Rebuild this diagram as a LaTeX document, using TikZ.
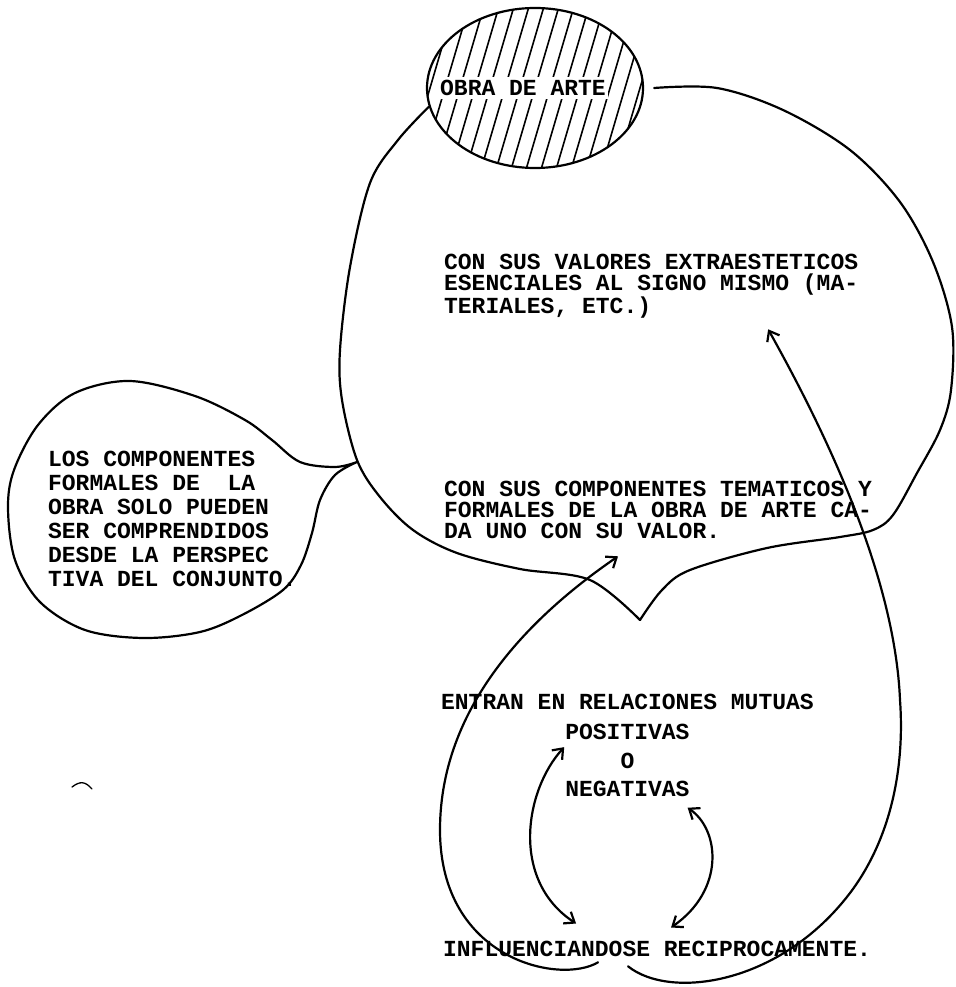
\documentclass[tikz,border=0pt]{standalone}
\usepackage{fontspec}
\setmonofont{Liberation Mono}
\usetikzlibrary{shapes.geometric,arrows.meta,positioning}

\begin{document}
\begin{tikzpicture}[x=1pt, y=-1pt, >={Straight Barb[length=9pt,width=14pt]}, line width=2.2pt, line join=round, line cap=round]
  \tikzstyle{typed} = [font=\ttfamily\bfseries\fontsize{23}{21}\selectfont, inner sep=0pt, align=left]
  \tikzstyle{typedwide} = [typed, font=\ttfamily\bfseries\fontsize{23}{24}\selectfont]
  \tikzstyle{hatched} = [ellipse, draw, minimum width=216pt, minimum height=160pt, inner sep=0pt,
    path picture={\foreach \k in {-9,...,9}
      \draw[line width=1.6pt] ([shift={(\k*15pt-25pt,-85pt)}]path picture bounding box.center) -- ++(50pt,170pt);}]

  \useasboundingbox (0,0) rectangle (955,987);
  \fill[white] (0,0) rectangle (955,987);

  % the work of art
  \node[hatched] (obra) at (535,88) {};
  \node[typed, fill=white, inner xsep=2pt, inner ysep=3pt] (obratxt) at (523,88) {OBRA DE ARTE};

  % typed blocks
  \node[typed, anchor=north west] (valores) at (443,253.5) {CON SUS VALORES EXTRAESTETICOS\\ESENCIALES AL SIGNO MISMO (MA-\\TERIALES, ETC.)};
  \node[typed, anchor=north west] (comp) at (443,480.5) {CON SUS COMPONENTES TEMATICOS Y\\FORMALES DE LA OBRA DE ARTE CA-\\DA UNO CON SU VALOR.};
  \node[typedwide, anchor=north west] (los) at (47,450.5) {LOS COMPONENTES\\FORMALES DE~~LA\\OBRA SOLO PUEDEN\\SER COMPRENDIDOS\\DESDE LA PERSPEC\\TIVA DEL CONJUNTO.};
  \node[typed, anchor=north west] (entran) at (440,693.5) {ENTRAN EN RELACIONES MUTUAS};
  \node[typed] (pos) [below=12pt of entran] {POSITIVAS};
  \node[typed] (o) [below=11pt of pos] {O};
  \node[typed] (neg) [below=10pt of o] {NEGATIVAS};
  \node[typed, anchor=north west] (influ) at (442,940.5) {INFLUENCIANDOSE RECIPROCAMENTE.};

  % balloon round the work
  \draw plot[smooth, tension=0.55] coordinates {(obra.190) (398,140) (370,183) (350,267) (340,350) (342,400) (357,460) (380,497) (413,530) (457,553) (520,569) (590,580) (640,620)};
  \draw plot[smooth, tension=0.55] coordinates {(640,620) (662,590) (690,570) (767,548) (840,537) (873,530) (893,515) (917,473) (940,430) (951,390) (952,327) (933,262) (900,202) (850,150) (783,110) (717,88) ([xshift=10pt]obra.east)};

  % side bubble
  \draw plot[smooth, tension=0.55] coordinates {(357,462) (335,467) (300,462) (272,440) (245,420) (195,396) (130,381) (75,393) (38,425) (14,470) (8,508) (15,560) (40,602) (85,630) (143,638) (200,632) (242,615) (283,590) (301,565) (312,533) (320,500) (335,475) (357,462)};

  % arrows
  \draw[->] ([shift={(-59,4)}]influ.south) .. controls (560,985) and (440,960) .. (440,830) .. controls (440,700) and (540,610) .. ([shift={(-40,16)}]comp.south);
  \draw[->] ([shift={(-29,8)}]influ.south) .. controls (670,1000) and (780,985) .. (850,893) .. controls (890,840) and (905,770) .. (900,700) .. controls (895,580) and (830,440) .. ([shift={(117,10)}]valores.south);
  \draw[<->] ([shift={(0,6)}]pos.south west) .. controls (525,790) and (510,880) .. ([shift={(-81,-17)}]influ.north);
  \draw[<->] ([shift={(-3,10)}]neg.south east) .. controls (720,830) and (725,890) .. ([shift={(14,-13)}]influ.north);

  \draw[line width=1.3pt] (72,787) .. controls (80,781) and (85,781) .. (92,789);
\end{tikzpicture}
\end{document}
